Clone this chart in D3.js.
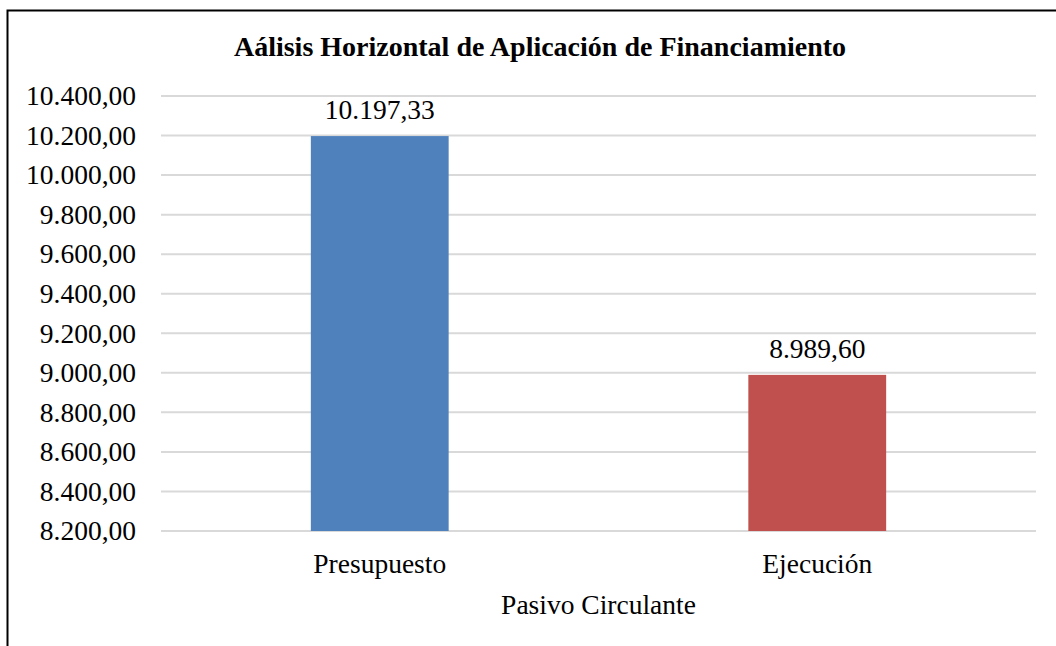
<!DOCTYPE html>
<html lang="en">
<head>
    <meta charset="UTF-8">
    <title>Aálisis Horizontal de Aplicación de Financiamiento</title>
    <style>
        body {
            margin: 0;
            padding: 0;
            background-color: #fff;
        }
        text {
            font-family: "Liberation Serif", "Times New Roman", serif;
            fill: #000;
        }
        .grid line {
            stroke: #d9d9d9;
            stroke-width: 2;
        }
        .chart-title {
            text-anchor: middle;
            font-size: 28px;
            font-weight: bold;
        }
    </style>
</head>
<body>
    <svg width="1056" height="646"></svg>

    <script src="https://d3js.org/d3.v7.min.js"></script>
    <script>
        const categories = ["Presupuesto", "Ejecución"];
        const values = [10197.33, 8989.60];
        const colors = ["#4f81bd", "#c0504d"];
        const yTicks = [8200, 8400, 8600, 8800, 9000, 9200, 9400, 9600, 9800, 10000, 10200, 10400];

        const svg = d3.select("svg");
        const margin = {top: 96, left: 161};
        const plotRight = 1036;
        const plotBottom = 531;
        const serif = '"Liberation Serif", "Times New Roman", serif';

        // Spanish number format: 10.197,33
        const fmt = d3.formatLocale({decimal: ",", thousands: ".", grouping: [3], currency: ["", ""]}).format(",.2f");

        // outer frame
        svg.append("rect")
            .attr("x", 7.5)
            .attr("y", 10.5)
            .attr("width", 1100)
            .attr("height", 700)
            .attr("fill", "none")
            .attr("stroke", "#000")
            .attr("stroke-width", 2);

        const x = d3.scaleBand()
            .domain(categories)
            .range([margin.left, plotRight]);

        const y = d3.scaleLinear()
            .domain([8200, 10400])
            .range([plotBottom, margin.top]);

        // gridlines
        svg.append("g")
            .attr("class", "grid")
            .selectAll("line")
            .data(yTicks)
            .join("line")
            .attr("x1", margin.left)
            .attr("x2", plotRight)
            .attr("y1", d => y(d))
            .attr("y2", d => y(d));

        // y axis labels
        svg.append("g")
            .attr("transform", `translate(${margin.left},0)`)
            .call(d3.axisLeft(y).tickValues(yTicks).tickFormat(fmt).tickSize(0).tickPadding(25))
            .call(g => g.select(".domain").remove())
            .call(g => g.selectAll("text")
                .style("font-family", serif)
                .style("font-size", "27.5px")
                .attr("fill", "#000"));

        const barW = x.bandwidth() * 0.315;

        svg.append("g")
            .selectAll("rect")
            .data(values)
            .join("rect")
            .attr("x", (d, i) => x(categories[i]) + (x.bandwidth() - barW) / 2)
            .attr("y", d => y(d))
            .attr("width", barW)
            .attr("height", d => y(8200) - y(d))
            .attr("fill", (d, i) => colors[i]);

        // value labels
        svg.append("g")
            .selectAll("text")
            .data(values)
            .join("text")
            .attr("x", (d, i) => x(categories[i]) + x.bandwidth() / 2)
            .attr("y", d => y(d) - 17)
            .attr("text-anchor", "middle")
            .style("font-size", "27.5px")
            .text(d => fmt(d));

        // x axis labels
        svg.append("g")
            .attr("transform", `translate(0,${plotBottom})`)
            .call(d3.axisBottom(x).tickSize(0).tickPadding(22))
            .call(g => g.select(".domain").remove())
            .call(g => g.selectAll("text")
                .style("font-family", serif)
                .style("font-size", "27.5px")
                .attr("fill", "#000"));

        svg.append("text")
            .attr("x", (margin.left + plotRight) / 2)
            .attr("y", 614)
            .attr("text-anchor", "middle")
            .style("font-size", "27.5px")
            .text("Pasivo Circulante");

        svg.append("text")
            .attr("class", "chart-title")
            .attr("x", 540)
            .attr("y", 56)
            .text("Aálisis Horizontal de Aplicación de Financiamiento");
    </script>
</body>
</html>
